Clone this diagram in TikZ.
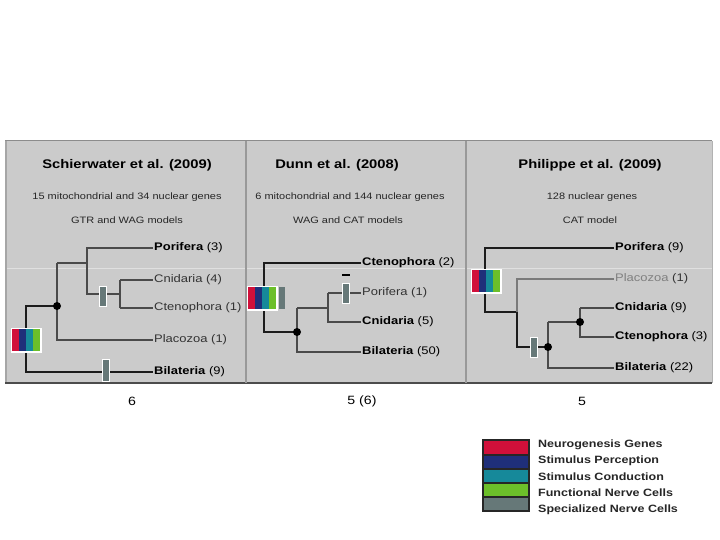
\documentclass[tikz,border=0pt]{standalone}
\usepackage{fontspec}
\setmainfont[FakeStretch=1.18]{Liberation Sans}
\definecolor{panelbg}{HTML}{CBCBCB}
\definecolor{cRed}{HTML}{D0103A}
\definecolor{cBlue}{HTML}{1F2F7A}
\definecolor{cTeal}{HTML}{16899A}
\definecolor{cGreen}{HTML}{6CBF2A}
\definecolor{cGray}{HTML}{667878}
\definecolor{brDark}{HTML}{1C1C1C}
\definecolor{brMid}{HTML}{4A4A4A}
\definecolor{brLight}{HTML}{7A7A7A}
\tikzset{
  br/.style={draw=brDark,line width=2.6pt},
  brm/.style={draw=brMid,line width=2.6pt},
  brl/.style={draw=brLight,line width=2.2pt},
  dotn/.style={circle,fill=black,inner sep=0pt,minimum size=8pt},
  taxb/.style={anchor=west,font=\fontsize{11}{12}\selectfont\bfseries,text=black,inner sep=1pt},
  taxr/.style={anchor=west,font=\fontsize{11}{12}\selectfont,text=black!80,inner sep=1pt},
  ttl/.style={font=\fontsize{12.5}{14}\selectfont\bfseries},
  sub/.style={font=\fontsize{9.3}{11}\selectfont,text=black!85},
  numl/.style={font=\fontsize{12}{13}\selectfont},
  legt/.style={anchor=west,font=\fontsize{10.6}{12}\selectfont\bfseries,text=black!85,inner sep=0pt},
}
\newcommand{\gbar}[3]{\fill[cGray,draw=white,line width=0.8pt] (#1-3.5,#2-#3) rectangle (#1+3.5,#2+#3);}
\newcommand{\cbox}[2]{%
  \fill[white] (#1-1.5,#2-1.5) rectangle (#1+29.5,#2+23.5);
  \fill[cRed]   (#1,#2) rectangle (#1+7,#2+22);
  \fill[cBlue]  (#1+7,#2) rectangle (#1+14,#2+22);
  \fill[cTeal]  (#1+14,#2) rectangle (#1+21,#2+22);
  \fill[cGreen] (#1+21,#2) rectangle (#1+28,#2+22);}
\begin{document}
\begin{tikzpicture}[x=1pt,y=-1pt]
\useasboundingbox (0,0) rectangle (720,540);
\fill[white] (0,0) rectangle (720,540);
% panel
\fill[panelbg] (5,141) rectangle (712,383);
\draw[white!88!black,line width=1pt] (5,268) -- (712,268);
\draw[black!45,line width=1pt] (5,141) -- (712,141);
\draw[black!35,line width=2pt] (6,141) -- (6,383);
\draw[black!30,line width=1pt] (712,141) -- (712,383);
\draw[black!70,line width=2.5pt] (5,383) -- (712,383);
\draw[black!40,line width=1.2pt] (246,141) -- (246,383);
\draw[black!40,line width=1.2pt] (466,141) -- (466,383);

% ---------- panel 1
\node[ttl] (t1) at (127,165) {Schierwater et al. (2009)};
\node[sub] (s1a) at (127,197) {15 mitochondrial and 34 nuclear genes};
\node[sub] (s1b) at (127,220) {GTR and WAG models};
\coordinate (p1r) at (26,306);
\coordinate (p1a) at (57,306);
\coordinate (p1b) at (87,263);
\coordinate (p1c) at (120,294);
\node[taxb] (p1por) at (153,248) {Porifera \mdseries(3)};
\node[taxr] (p1cni) at (153,280) {Cnidaria (4)};
\node[taxr] (p1cte) at (153,308) {Ctenophora (1)};
\node[taxr] (p1pla) at (153,340) {Placozoa (1)};
\node[taxb] (p1bil) at (153,372) {Bilateria \mdseries(9)};
\draw[brm] (p1b) -- (87,248) -- (p1por.west);
\draw[brm] (p1c |- p1cni.west) -- (p1cni.west);
\draw[brm] (p1c |- p1cte.west) -- (p1cte.west);
\draw[brm] (120,280) -- (120,308);
\draw[brm] (87,248) -- (87,294) -- (p1c);
\draw[brm] (57,263) -- (p1b);
\draw[brm] (57,263) -- (57,340) -- (p1pla.west);
\draw[br] (p1a) -- (p1r) -- (26,372) -- (p1bil.west);
\node[dotn] (d1) at (p1a) {};
\gbar{103}{296}{10}
\gbar{106}{370}{11}
\cbox{12}{329}

% ---------- panel 2
\node[ttl] (t2) at (337,165) {Dunn et al. (2008)};
\node[sub] (s2a) at (350,197) {6 mitochondrial and 144 nuclear genes};
\node[sub] (s2b) at (348,220) {WAG and CAT models};
\coordinate (p2a) at (297,332);
\coordinate (p2b) at (328,308);
\node[taxb] (p2cte) at (361,263) {Ctenophora \mdseries(2)};
\node[taxr] (p2por) at (361,293) {Porifera (1)};
\node[taxb] (p2cni) at (361,322) {Cnidaria \mdseries(5)};
\node[taxb] (p2bil) at (361,352) {Bilateria \mdseries(50)};
\draw[br] (p2cte.west) -- (264,263) -- (264,332) -- (p2a);
\draw[brm] (297,308) -- (297,352) -- (p2bil.west);
\draw[brm] (297,308) -- (p2b);
\draw[brm] (328,293) -- (328,322) -- (p2cni.west);
\draw[brm] (328,293) -- (p2por.west);
\node[dotn] (d2) at (p2a) {};
\gbar{346}{293}{10}
\draw[black,line width=1.6pt] (342,275) -- (350,275);
\cbox{248}{287}
\fill[cGray] (278.5,287) rectangle (285,309);

% ---------- panel 3
\node[ttl] (t3) at (590,165) {Philippe et al. (2009)};
\node[sub] (s3a) at (592,197) {128 nuclear genes};
\node[sub] (s3b) at (590,220) {CAT model};
\coordinate (p3a) at (517,312);
\coordinate (p3b) at (548,347);
\coordinate (p3c) at (580,322);
\node[taxb] (p3por) at (614,248) {Porifera \mdseries(9)};
\node[taxr,text=black!50] (p3pla) at (614,279) {Placozoa \textcolor{black!80}{(1)}};
\node[taxb] (p3cni) at (614,308) {Cnidaria \mdseries(9)};
\node[taxb] (p3cte) at (614,337) {Ctenophora \mdseries(3)};
\node[taxb] (p3bil) at (614,368) {Bilateria \mdseries(22)};
\draw[br] (p3por.west) -- (485,248) -- (485,312) -- (p3a);
\draw[brl] (p3pla.west) -- (517,279) -- (p3a);
\draw[br] (p3a) -- (517,347) -- (p3b);
\draw[brm] (548,322) -- (548,368) -- (p3bil.west);
\draw[brm] (548,322) -- (p3c);
\draw[brm] (580,308) -- (580,337) -- (p3cte.west);
\draw[brm] (580,308) -- (p3cni.west);
\node[dotn] (d3a) at (p3b) {};
\node[dotn] (d3b) at (p3c) {};
\gbar{534}{347}{10}
\cbox{472}{270}

% ---------- numbers
\node[numl] (n1) at (132,401) {6};
\node[numl] (n2) at (362,401) {5 (6)};
\node[numl] (n3) at (582,401) {5};

% ---------- legend
\fill[black!85] (482,439) rectangle (530,512);
\fill[cRed]   (484,441) rectangle (528,454);
\fill[cBlue]  (484,456) rectangle (528,468);
\fill[cTeal]  (484,470) rectangle (528,482);
\fill[cGreen] (484,484) rectangle (528,496);
\fill[cGray]  (484,498) rectangle (528,510);
\node[legt] (l1) at (538,445) {Neurogenesis Genes};
\node[legt] (l2) at (538,461) {Stimulus Perception};
\node[legt] (l3) at (538,477) {Stimulus Conduction};
\node[legt] (l4) at (538,493) {Functional Nerve Cells};
\node[legt] (l5) at (538,510) {Specialized Nerve Cells};
\end{tikzpicture}
\end{document}
